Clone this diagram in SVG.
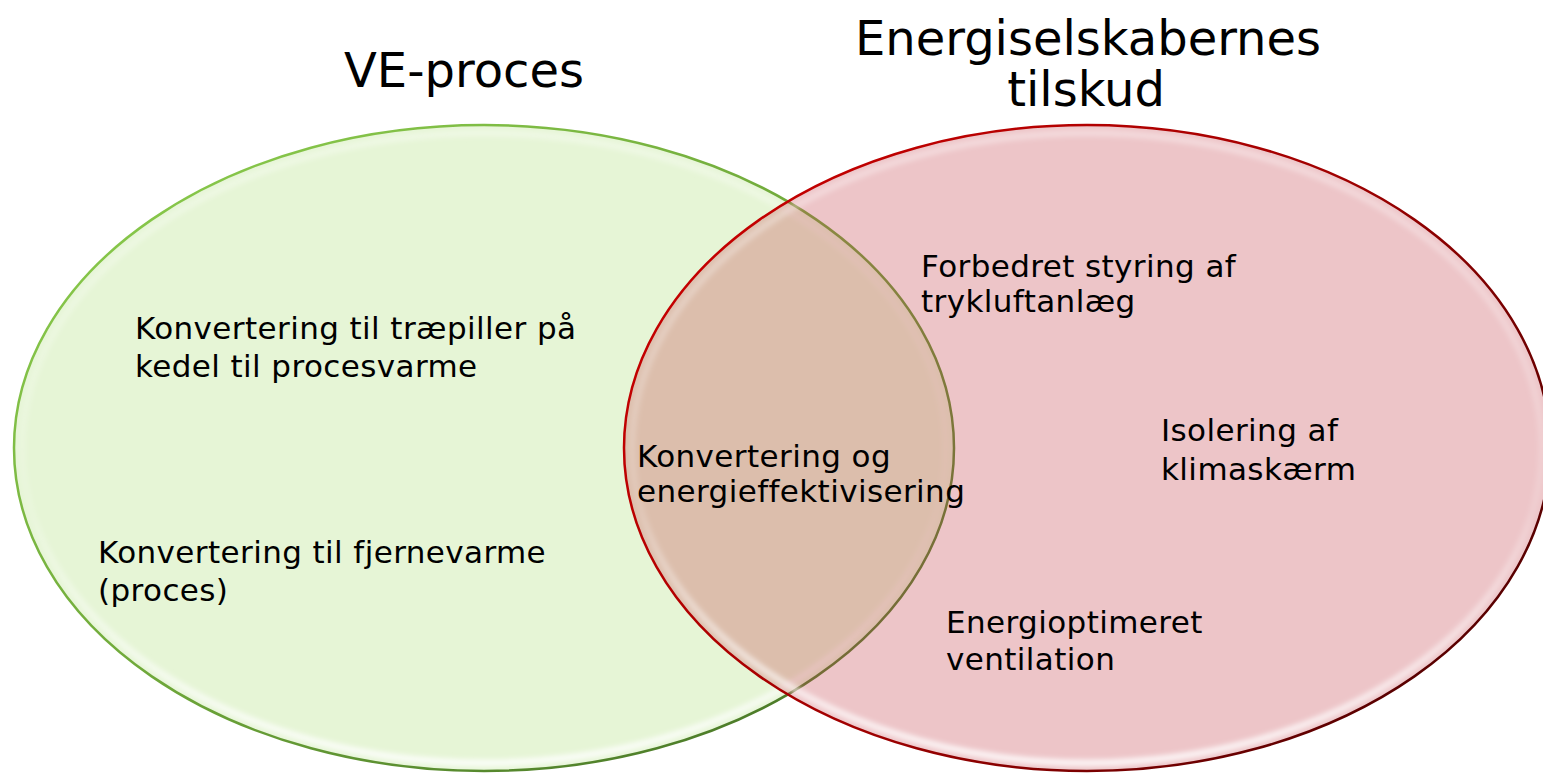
<svg xmlns="http://www.w3.org/2000/svg" width="1543" height="773" viewBox="0 0 1543 773">
  <defs>
    <linearGradient id="gStroke" x1="0" y1="0" x2="1" y2="1">
      <stop offset="0" stop-color="#8fd14f"/>
      <stop offset="0.5" stop-color="#6fa83a"/>
      <stop offset="1" stop-color="#3f6b22"/>
    </linearGradient>
    <linearGradient id="rStroke" x1="0" y1="0" x2="1" y2="0.6">
      <stop offset="0" stop-color="#d00000"/>
      <stop offset="0.6" stop-color="#a00000"/>
      <stop offset="1" stop-color="#5a0000"/>
    </linearGradient>
    <linearGradient id="hiGrad" x1="0" y1="0" x2="0" y2="1">
      <stop offset="0" stop-color="#ffffff" stop-opacity="0.35"/>
      <stop offset="0.6" stop-color="#ffffff" stop-opacity="0.15"/>
      <stop offset="1" stop-color="#ffffff" stop-opacity="0.8"/>
    </linearGradient>
    <filter id="soft" x="-5%" y="-5%" width="110%" height="110%">
      <feGaussianBlur stdDeviation="2.5"/>
    </filter>
  </defs>
  <style>
    .lbl { font-family: "DejaVu Sans", Verdana, sans-serif; font-size: 31px; letter-spacing: 0.4px; fill: #000; }
    .title { font-family: "DejaVu Sans", Verdana, sans-serif; font-size: 48px; fill: #000; text-anchor: middle; }
    .hi { fill: none; stroke: url(#hiGrad); stroke-width: 7; filter: url(#soft); }
  </style>
  <rect width="1543" height="773" fill="#ffffff"/>

  <g id="venn-left">
    <ellipse cx="484" cy="448" rx="470" ry="323" fill="#e6f5d6"/>
    <ellipse class="hi" cx="484" cy="448" rx="462" ry="315"/>
    <ellipse cx="484" cy="448" rx="470" ry="323" fill="none" stroke="url(#gStroke)" stroke-width="2.5"/>
  </g>

  <g id="venn-right">
    <ellipse cx="1087" cy="448" rx="463" ry="323" fill="rgb(199,74,83)" fill-opacity="0.32"/>
    <ellipse class="hi" cx="1087" cy="448" rx="455" ry="315"/>
    <ellipse cx="1087" cy="448" rx="463" ry="323" fill="none" stroke="url(#rStroke)" stroke-width="2.5"/>
  </g>

  <g id="title-left">
    <text class="title" x="464" y="87">VE-proces</text>
  </g>
  <g id="title-right">
    <text class="title" x="1088" y="55">Energiselskabernes</text>
    <text class="title" x="1086" y="106">tilskud</text>
  </g>

  <g id="label-traepiller">
    <text class="lbl" x="135" y="339">Konvertering til træpiller på</text>
    <text class="lbl" x="135" y="377">kedel til procesvarme</text>
  </g>
  <g id="label-fjernevarme">
    <text class="lbl" x="98" y="563">Konvertering til fjernevarme</text>
    <text class="lbl" x="98" y="601">(proces)</text>
  </g>
  <g id="label-overlap">
    <text class="lbl" x="637" y="467">Konvertering og</text>
    <text class="lbl" x="637" y="502">energieffektivisering</text>
  </g>
  <g id="label-trykluft">
    <text class="lbl" x="921" y="277">Forbedret styring af</text>
    <text class="lbl" x="921" y="312">trykluftanlæg</text>
  </g>
  <g id="label-isolering">
    <text class="lbl" x="1161" y="441">Isolering af</text>
    <text class="lbl" x="1161" y="480">klimaskærm</text>
  </g>
  <g id="label-ventilation">
    <text class="lbl" x="946" y="633">Energioptimeret</text>
    <text class="lbl" x="946" y="670">ventilation</text>
  </g>
</svg>
